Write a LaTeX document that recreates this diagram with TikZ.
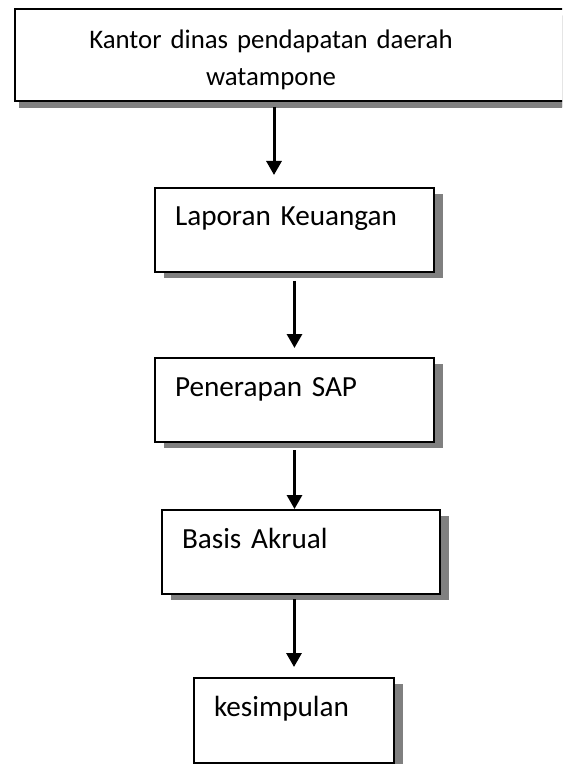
\documentclass[tikz,border=0pt]{standalone}
\usepackage{fontspec}
\setmainfont{Carlito}
\usetikzlibrary{arrows.meta,shadows}
\begin{document}
\begin{tikzpicture}[x=0.5pt,y=-0.5pt,
    kotak/.style={draw,line width=1pt,fill=white,anchor=north west,align=left,
      inner xsep=10pt,inner ysep=0pt,text height=19pt,text depth=23pt,
      font=\fontsize{14.6}{18.5}\selectfont,
      drop shadow={shadow xshift=4.5pt,shadow yshift=-3.2pt,fill=black!50,opacity=1}},
    panah/.style={line width=1.5pt,-{Triangle[width=7.5pt,length=7pt]}}]
      \useasboundingbox (0,0) rectangle (562,764);
      \clip (0,0) rectangle (562,764);
      \draw
        (14,8) node[kotak,align=center,text width=258pt,text height=20pt,text depth=26pt,
          font=\fontsize{13.4}{18.5}\selectfont,
          drop shadow={shadow xshift=2pt,shadow yshift=-3.5pt,fill=black!50,opacity=1}]
          (kantor){Kantor dinas pendapatan daerah\rule{22pt}{0pt}\\watampone\rule{22pt}{0pt}}
        (154,187) node[kotak,text width=119.5pt] (lap){Laporan Keuangan}
        (154,357) node[kotak,text width=119.5pt] (sap){Penerapan SAP}
        (161,509) node[kotak,text width=119pt] (akrual){Basis Akrual}
        (193,677) node[kotak,text width=80pt,text depth=23.5pt] (kesim){kesimpulan};
      \begin{scope}[panah]
        \draw[shorten <=2.5pt,shorten >=6pt] ([xshift=-10.25pt]lap.north |- kantor.south) to ([xshift=-10.25pt]lap.north);
        \draw[shorten <=4pt,shorten >=4.5pt] (lap.south) to (sap.north);
        \draw[shorten <=3.5pt] (sap.south) to (sap.south |- akrual.north);
        \draw[shorten <=2pt,shorten >=5pt] (kesim.north |- akrual.south) to (kesim.north);
      \end{scope}
    \end{tikzpicture}
\end{document}
